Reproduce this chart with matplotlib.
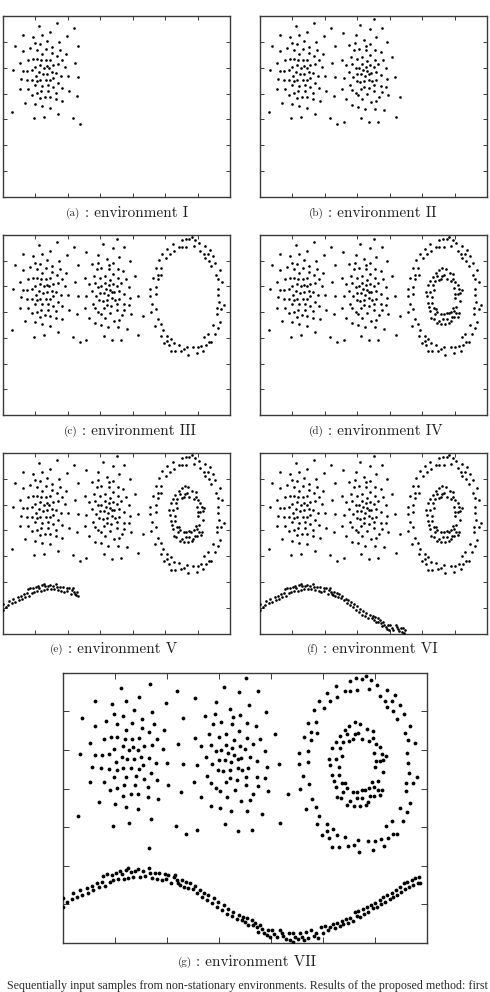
import matplotlib
matplotlib.use("Agg")
import matplotlib.pyplot as plt

# ---------------- data (units of axis ticks, 0..7 on both axes) ----------------
left_x = [1.12,1.68,2.19,0.62,0.94,1.22,1.47,1.99,1.37,0.37,0.99,1.16,1.72,2.31,0.62,0.84,1.05,1.34,1.53,1.76,
          1.22,1.52,1.95,1.66,0.53,0.79,0.92,1.05,1.19,1.34,1.47,1.82,2.22,0.99,1.15,1.27,1.35,1.44,1.56,1.71,
          1.92,0.33,0.62,0.76,0.89,1.13,1.24,1.37,1.51,1.65,1.02,1.55,1.80,2.01,2.31,0.56,0.74,0.89,1.05,1.16,
          1.32,1.47,1.69,0.99,1.22,1.40,1.56,1.82,0.53,0.79,1.05,1.18,1.39,1.63,2.03,0.90,2.28,1.16,1.31,1.45,
          1.63,1.84,0.69,1.00,1.22,1.45,1.69,0.97,1.28,2.17,2.37,0.29]
left_y = [6.60,6.72,6.53,6.26,6.18,6.26,6.36,6.21,6.03,5.82,5.93,5.89,5.97,5.82,5.63,5.74,5.66,5.70,5.81,5.68,
          5.52,5.56,5.52,5.46,5.19,5.28,5.34,5.34,5.28,5.28,5.31,5.29,5.16,5.03,5.10,5.00,5.07,5.00,5.10,5.13,
          5.03,4.89,4.86,4.86,4.89,4.82,4.76,4.77,4.82,4.79,4.68,4.61,4.66,4.66,4.64,4.57,4.52,4.51,4.47,4.53,
          4.53,4.51,4.41,4.31,4.30,4.33,4.24,4.22,4.18,4.16,4.02,4.10,4.10,4.03,4.10,3.96,3.92,3.81,3.87,3.85,
          3.79,3.72,3.65,3.60,3.52,3.46,3.22,3.04,3.10,3.04,2.82,3.30]

mid_x = [3.52,3.09,3.39,3.75,2.55,2.95,3.58,3.22,3.91,2.74,2.93,3.27,3.40,2.89,3.04,3.26,3.54,3.72,3.39,2.82,
         3.14,4.07,2.54,3.00,3.29,3.54,3.80,2.66,2.84,3.14,3.26,3.40,3.65,2.95,3.04,3.18,3.29,3.51,3.89,2.75,
         3.37,3.43,3.59,2.58,2.87,3.00,3.11,3.24,3.73,4.16,2.98,3.08,3.21,3.36,3.45,3.57,3.92,2.78,3.21,3.13,
         3.35,3.53,3.73,3.89,2.53,2.85,3.52,3.75,2.95,3.03,3.31,3.95,3.66,2.66,3.16,4.32,3.42,3.59,2.84,3.02,
         3.24,3.55,3.82,3.11,4.18,2.58,3.36,3.64]
mid_y = [6.86,6.64,6.49,6.53,6.35,6.24,6.16,6.06,5.97,5.88,5.93,5.85,5.91,5.66,5.72,5.66,5.69,5.61,5.50,5.40,
         5.41,5.40,5.31,5.33,5.25,5.31,5.28,5.10,5.13,5.13,5.04,5.10,5.15,4.97,5.00,4.91,4.88,5.02,4.97,4.82,
         4.77,4.78,4.82,4.61,4.64,4.74,4.75,4.68,4.72,4.64,4.49,4.45,4.47,4.54,4.49,4.52,4.55,4.33,4.27,4.18,
         4.23,4.31,4.30,4.27,4.16,4.15,4.08,4.07,4.02,3.94,3.97,3.94,3.87,3.77,3.78,3.85,3.67,3.71,3.56,3.50,
         3.41,3.41,3.35,3.07,3.11,2.92,2.90,2.92]

outer_x = [5.82,5.63,5.75,5.52,5.93,6.04,5.25,5.43,5.52,5.66,5.89,6.23,5.07,6.39,5.27,6.09,5.14,4.92,6.19,6.32,
           6.48,6.23,4.82,5.02,6.34,6.55,6.43,4.71,4.86,4.77,4.89,4.63,4.77,6.68,6.57,6.63,6.76,4.55,4.72,4.55,
           4.71,6.62,6.63,4.61,4.73,4.56,6.66,6.81,6.59,6.73,6.60,4.79,4.68,4.86,6.68,6.48,4.93,6.62,4.89,5.07,
           6.53,6.32,6.21,4.98,5.07,5.19,5.11,5.28,5.43,6.43,6.34,6.25,6.12,6.00,5.87,5.68,5.59,5.49,5.17,5.30,
           5.97,6.18,5.70]
outer_y = [6.92,6.85,6.84,6.79,6.80,6.69,6.66,6.52,6.52,6.54,6.58,6.56,6.47,6.43,6.36,6.39,6.26,6.28,6.26,6.26,
           6.17,6.10,6.04,6.09,6.00,5.93,5.79,5.71,5.72,5.46,5.43,5.33,5.27,5.63,5.43,5.27,5.18,4.91,4.97,4.64,
           4.70,4.91,4.66,4.33,4.12,3.99,4.41,4.29,4.15,4.14,3.94,3.72,3.47,3.52,3.62,3.49,3.29,3.38,3.09,3.09,
           3.16,3.16,3.03,2.80,2.89,2.96,2.72,2.79,2.74,2.83,2.83,2.72,2.70,2.64,2.64,2.66,2.55,2.50,2.48,2.48,
           2.41,2.50,2.35]

inner_x = [5.62,5.51,5.72,5.43,5.84,5.32,5.46,5.61,5.68,5.57,5.96,5.25,5.38,5.51,5.75,5.89,5.96,5.17,5.33,6.02,
           6.09,5.12,5.25,5.36,5.98,6.14,5.14,5.30,6.02,6.09,6.16,6.21,5.17,5.31,6.00,6.16,5.21,5.36,5.43,5.95,
           6.05,5.25,5.46,5.57,5.66,5.75,5.81,5.89,5.98,6.05,6.14,5.39,5.27,5.35,5.52,5.65,5.75,5.91,5.99,6.10,
           5.46,5.59,5.71,5.82,5.87]
inner_y = [5.72,5.63,5.66,5.52,5.54,5.37,5.41,5.41,5.43,5.29,5.48,5.20,5.20,5.24,5.29,5.22,5.30,5.04,5.06,5.16,
           5.07,4.77,4.77,4.85,4.92,4.90,4.61,4.57,4.72,4.72,4.73,4.85,4.35,4.36,4.55,4.42,4.19,4.15,4.14,4.18,
           4.19,4.04,4.01,3.92,3.92,3.97,3.95,4.01,4.05,3.95,3.95,3.92,3.78,3.75,3.67,3.75,3.75,3.80,3.80,3.82,
           3.58,3.54,3.54,3.58,3.65]

sine_v_x = [0.01,0.01,0.09,0.17,0.20,0.28,0.33,0.38,0.46,0.49,0.56,0.59,0.65,0.69,0.75,0.77,0.81,0.85,0.90,0.94,
            0.97,1.02,1.07,1.10,1.13,1.17,1.22,1.26,1.26,1.31,1.36,1.39,1.45,1.49,1.55,1.58,1.65,1.67,1.71,1.77,
            1.81,1.86,1.90,1.97,1.99,2.03,2.09,2.13,2.16,2.19,2.22,2.25,2.29,2.33]
sine_v_y = [1.16,0.94,1.05,1.13,1.29,1.20,1.36,1.24,1.42,1.30,1.48,1.36,1.55,1.44,1.59,1.74,1.48,1.78,1.59,1.76,
            1.62,1.81,1.65,1.87,1.79,1.65,1.89,1.93,1.68,1.85,1.72,1.87,1.91,1.72,1.87,1.74,1.93,1.82,1.68,1.82,
            1.65,1.81,1.63,1.79,1.65,1.76,1.55,1.70,1.76,1.62,1.55,1.50,1.63,1.46]

sine_vi_x = [2.37,2.41,2.45,2.50,2.54,2.58,2.64,2.67,2.72,2.77,2.80,2.86,2.90,2.96,2.99,3.06,3.09,3.15,3.18,3.25,
             3.28,3.34,3.38,3.44,3.47,3.50,3.55,3.57,3.63,3.65,3.70,3.73,3.76,3.79,3.82,3.87,3.92,3.95,3.98,4.02,
             4.06,4.11,4.18,4.21,4.24,4.29,4.34,4.37,4.42,4.43,4.46]
sine_vi_y = [1.59,1.42,1.55,1.39,1.48,1.30,1.37,1.20,1.30,1.11,1.24,1.03,1.16,0.94,1.07,0.86,0.98,0.75,0.87,0.70,
             0.81,0.61,0.73,0.60,0.68,0.55,0.64,0.47,0.60,0.47,0.53,0.41,0.29,0.47,0.35,0.27,0.21,0.34,0.15,0.34,
             0.23,0.15,0.34,0.27,0.18,0.10,0.25,0.08,0.25,0.03,0.15]

sine_vii_x = [4.53,4.56,4.59,4.64,4.68,4.72,4.77,4.82,4.87,4.91,4.96,5.01,5.04,5.09,5.14,5.19,5.23,5.27,5.32,5.36,
              5.39,5.45,5.49,5.52,5.57,5.62,5.65,5.68,5.71,5.77,5.79,5.84,5.87,5.92,5.96,6.00,6.03,6.09,6.11,6.16,
              6.19,6.24,6.28,6.32,6.35,6.41,6.43,6.48,6.51,6.55,6.58,6.62,6.66,6.71,6.74,6.77,6.82,6.85,6.87]
sine_vii_y = [0.10,0.27,0.16,0.08,0.29,0.12,0.34,0.18,0.27,0.12,0.41,0.27,0.44,0.34,0.42,0.49,0.38,0.53,0.44,0.58,
              0.49,0.61,0.53,0.64,0.58,0.79,0.70,0.84,0.68,0.87,0.75,0.94,0.81,0.98,0.90,1.03,0.94,1.11,1.01,1.18,
              1.07,1.24,1.13,1.30,1.20,1.36,1.24,1.44,1.33,1.55,1.39,1.59,1.46,1.63,1.50,1.68,1.55,1.70,1.55]

extra_vii_x = [1.65]
extra_vii_y = [2.46]

panel_letters = ["a", "b", "c", "d", "e", "f", "g"]
panel_numerals = ["I", "II", "III", "IV", "V", "VI", "VII"]
caption_text = ("Sequentially input samples from non-stationary environments. "
                "Results of the proposed method: first")

# ---------------- layout ----------------
W, H = 490, 992
fig = plt.figure(figsize=(W / 100, H / 100), dpi=100)
fig.patch.set_facecolor("white")

# axes boxes in pixels: (left, right, top, bottom)
boxes = [
    (2.7, 230.0, 15.7, 197.3),
    (259.7, 487.3, 15.7, 197.3),
    (2.7, 230.0, 235.0, 415.0),
    (259.7, 487.3, 235.0, 415.0),
    (2.7, 230.0, 452.7, 634.0),
    (259.7, 487.3, 452.7, 634.0),
    (62.7, 427.0, 672.7, 943.0),
]
# caption: (right edge of "(x)", vertical centre) in pixels
caps = [(80.5, 213), (323.5, 213), (77.5, 431), (324, 431), (63.5, 649), (318.5, 649), (192, 962)]

groups = [
    (left_x, left_y),
    (mid_x, mid_y),
    (outer_x, outer_y),
    (inner_x, inner_y),
    (sine_v_x, sine_v_y),
    (sine_vi_x, sine_vi_y),
    (sine_vii_x, sine_vii_y),
]

cm = ["cmr10", "DejaVu Serif"]
edge = "#3a3a3a"
txt = "#1e1e1e"

for i, (l, r, t, b) in enumerate(boxes):
    ax = fig.add_axes([l / W, 1 - b / H, (r - l) / W, (b - t) / H])
    big = i == 6
    s = 7.5 if big else 3.6
    for gx, gy in groups[: i + 1]:
        ax.scatter(gx, gy, s=s, c="black", linewidths=0, zorder=3)
    if big:
        ax.scatter(extra_vii_x, extra_vii_y, s=s, c="black", linewidths=0, zorder=3)
    ax.set_xlim(0, 7)
    ax.set_ylim(0, 7)
    ax.set_xticks(range(8))
    ax.set_yticks(range(8))
    ax.tick_params(direction="in", length=3 if not big else 4, width=0.7, colors=edge,
                   top=True, right=True, labelbottom=False, labelleft=False)
    for sp in ax.spines.values():
        sp.set_color(edge)
        sp.set_linewidth(1.0)

    sx, cy = caps[i]
    fig.text(sx / W, 1 - cy / H, "(%s)" % panel_letters[i], ha="right", va="center",
             fontsize=8, family=cm, color=txt)
    fig.text((sx + 4) / W, 1 - cy / H, ": environment %s" % panel_numerals[i], ha="left",
             va="center", fontsize=11, family=cm, color=txt)

fig.text(7 / W, 1 - 989.5 / H, caption_text, ha="left", va="baseline", fontsize=8.65,
         family=["Liberation Serif"], color="#2a2a2a")

fig.savefig("out.png", dpi=100, facecolor="white")
